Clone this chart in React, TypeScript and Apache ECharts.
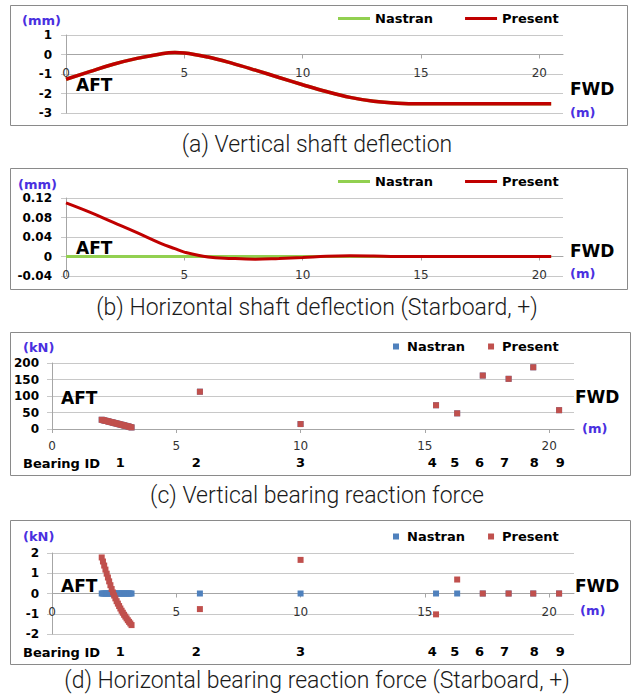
import React, { useEffect, useRef } from 'react';
import * as echarts from 'echarts';

// ---------- data ----------
const shaftX = [0, 1, 2, 3, 4, 4.6, 5, 6, 7, 8, 9, 10, 11, 12, 13, 14, 15, 16, 17, 18, 19, 20, 20.5];
const vertDeflPresent = [-1.27, -0.88, -0.5, -0.2, 0.03, 0.1, 0.08, -0.13, -0.44, -0.8, -1.18, -1.55, -1.9, -2.2, -2.4, -2.5, -2.53, -2.53, -2.53, -2.53, -2.53, -2.53, -2.53];
const vertDeflNastran = [-1.27, -0.88, -0.5, -0.2, 0.03, 0.1, 0.08, -0.13, -0.44, -0.8, -1.18, -1.55, -1.9, -2.2, -2.4, -2.5, -2.53, -2.53, -2.53, -2.53, -2.53, -2.53, -2.53];
const horzDeflPresent = [0.11, 0.091, 0.07, 0.049, 0.027, 0.016, 0.009, -0.001, -0.004, -0.0055, -0.004, -0.002, 0.0005, 0.0015, 0.001, 0, 0, 0, 0, 0, 0, 0, 0];
const horzDeflNastran = [0, 0, 0, 0, 0, 0, 0, 0, 0, 0, 0, 0, 0, 0, 0, 0, 0, 0, 0, 0, 0, 0, 0];

// bearing 1 (stern tube) support nodes
const bearing1X = [2.0, 2.05, 2.1, 2.15, 2.2, 2.25, 2.3, 2.35, 2.4, 2.45, 2.5, 2.55, 2.6, 2.65, 2.7, 2.75, 2.8, 2.85, 2.9, 2.95, 3.0, 3.05, 3.1, 3.15, 3.2];
const vertForceB1Present = [28, 27, 26, 25, 24.2, 23.2, 22.3, 21.3, 20.4, 19.4, 18.5, 17.5, 16.6, 15.6, 14.7, 13.7, 12.8, 11.8, 10.9, 9.9, 9.0, 8.0, 7.0, 5.9, 4.8];
const vertForceB1Nastran = [28, 27, 26, 25, 24.2, 23.2, 22.3, 21.3, 20.4, 19.4, 18.5, 17.5, 16.6, 15.6, 14.7, 13.7, 12.8, 11.8, 10.9, 9.9, 9.0, 8.0, 7.0, 5.9, 4.8];
const horzForceB1Present = [1.78, 1.58, 1.38, 1.18, 0.98, 0.79, 0.6, 0.41, 0.22, 0.05, -0.1, -0.24, -0.38, -0.5, -0.62, -0.74, -0.85, -0.95, -1.05, -1.14, -1.23, -1.32, -1.4, -1.48, -1.56];
const horzForceB1Nastran = [0, 0, 0, 0, 0, 0, 0, 0, 0, 0, 0, 0, 0, 0, 0, 0, 0, 0, 0, 0, 0, 0, 0, 0, 0];

// bearings 2 - 9
const bearingX = [5.95, 10.0, 15.45, 16.3, 17.33, 18.37, 19.36, 20.4];
const vertForcePresent = [113, 15, 72, 47.5, 162, 152, 187, 57];
const vertForceNastran = [113, 15, 72, 47.5, 162, 152, 187, 57];
const horzForcePresent = [-0.77, 1.66, -1.03, 0.69, 0, 0, 0, 0];
const horzForceNastran = [0, 0, 0, 0, 0, 0, 0, 0];

const distanceTicks = [0, 5, 10, 15, 20];
const bearingIds = ['1', '2', '3', '4', '5', '6', '7', '8', '9'];
const bearingIdX = [2.75, 5.8, 10.0, 15.3, 16.2, 17.2, 18.2, 19.4, 20.45];

const captions = [
  '(a) Vertical shaft deflection',
  '(b) Horizontal shaft deflection (Starboard, +)',
  '(c) Vertical bearing reaction force',
  '(d) Horizontal bearing reaction force (Starboard, +)',
];

// ---------- layout / styles ----------
const FONT = '"DejaVu Sans", sans-serif';
const AXIS = '#a6a6a6';
const GRID = '#c8c8c8';
const UNIT = '#4a30e0';
const GREEN = '#92d050';
const DARKRED = '#c00000';
const BLUE = '#4f81bd';
const RED = '#c0504d';

const grids = [
  { left: 66, top: 35, width: 497, height: 78 },
  { left: 66, top: 198, width: 497, height: 78 },
  { left: 52, top: 363, width: 522, height: 66 },
  { left: 52, top: 553, width: 522, height: 81 },
];
const yRanges = [
  { min: -3, max: 1, interval: 1 },
  { min: -0.04, max: 0.12, interval: 0.04 },
  { min: 0, max: 200, interval: 50 },
  { min: -2, max: 2, interval: 1 },
];

const zip = (xs: number[], ys: number[]) => xs.map((x, i) => [x, ys[i]]);

// shift of the horizontal axis from the grid bottom up to the y = 0 line
const zeroOffset = (i: number) => {
  const r = yRanges[i];
  return -grids[i].height * (0 - r.min) / (r.max - r.min);
};

const mainX = (gridIndex: number, margin: number) => ({
  type: 'value',
  gridIndex,
  min: 0,
  max: 21,
  interval: 5,
  position: 'bottom',
  offset: zeroOffset(gridIndex),
  axisLine: { show: true, onZero: false, lineStyle: { color: AXIS, width: 1 } },
  axisTick: { show: true, length: 4, customValues: distanceTicks, lineStyle: { color: AXIS } },
  axisLabel: {
    show: true,
    margin,
    customValues: distanceTicks,
    color: '#333',
    fontFamily: FONT,
    fontSize: 12,
    formatter: (v: number) => (v % 5 === 0 ? String(v) : ''),
  },
  splitLine: { show: false },
});

const idX = (gridIndex: number, margin: number) => ({
  type: 'value',
  gridIndex,
  min: 0,
  max: 21,
  position: 'bottom',
  axisLine: { show: false, onZero: false },
  axisTick: { show: false },
  splitLine: { show: false },
  axisLabel: {
    show: true,
    margin,
    customValues: bearingIdX,
    formatter: (v: number) => {
      const i = bearingIdX.indexOf(v);
      return i >= 0 ? bearingIds[i] : '';
    },
    fontWeight: 'bold',
    fontSize: 13,
    color: '#000',
    fontFamily: FONT,
  },
});

const yAx = (gridIndex: number, margin: number) => ({
  type: 'value',
  gridIndex,
  min: yRanges[gridIndex].min,
  max: yRanges[gridIndex].max,
  interval: yRanges[gridIndex].interval,
  axisLine: { show: true, onZero: false, lineStyle: { color: AXIS } },
  axisTick: { show: true, length: 5, lineStyle: { color: GRID } },
  axisLabel: { margin, color: '#000', fontWeight: 'bold', fontFamily: FONT, fontSize: 12 },
  splitLine: { show: true, lineStyle: { color: GRID, width: 1 } },
});

const txt = (text: string, x: number, y: number, size: number, color = '#000', align = 'left') => ({
  type: 'text',
  z: 50,
  style: {
    text,
    x,
    y,
    fill: color,
    font: `bold ${size}px ${FONT}`,
    align,
    verticalAlign: 'middle',
    textAlign: align,
    textVerticalAlign: 'middle',
  },
});

const frame = (x: number, y: number, w: number, h: number) => ({
  type: 'rect',
  z: 0,
  shape: { x, y, width: w, height: h },
  style: { fill: 'none', stroke: '#8a8a8a', lineWidth: 1 },
});

const caption = (text: string, y: number) => ({
  type: 'text',
  z: 50,
  style: {
    text,
    x: 317,
    y,
    fill: '#1a1a1a',
    font: `300 23px Roboto, "Noto Sans", sans-serif`,
    align: 'center',
    verticalAlign: 'middle',
    textAlign: 'center',
    textVerticalAlign: 'middle',
  },
});

const lineLegend = (top: number) => ({
  left: 338,
  top,
  padding: 0,
  orient: 'horizontal',
  icon: 'rect',
  itemWidth: 32,
  itemHeight: 3,
  itemGap: 32,
  selectedMode: false,
  textStyle: { fontFamily: FONT, fontWeight: 'bold', fontSize: 13, color: '#000' },
  data: [
    { name: 'Nastran', icon: 'rect', itemStyle: { color: GREEN } },
    { name: 'Present', icon: 'rect', itemStyle: { color: DARKRED } },
  ],
});

const SQUARE = 'path://M0,0L1,0L1,1L0,1Z';
const dotLegend = (top: number) => ({
  left: 393,
  top,
  padding: 0,
  orient: 'horizontal',
  itemWidth: 12,
  itemHeight: 6,
  itemGap: 23,
  selectedMode: false,
  textStyle: { fontFamily: FONT, fontWeight: 'bold', fontSize: 13, color: '#000' },
  data: [
    { name: 'Nastran', icon: SQUARE, itemStyle: { color: BLUE } },
    { name: 'Present', icon: SQUARE, itemStyle: { color: RED } },
  ],
});

const lineSeries = (name: string, idx: number, data: number[][], color: string, width: number) => ({
  type: 'line',
  name,
  xAxisIndex: idx,
  yAxisIndex: idx,
  data,
  smooth: 0.4,
  symbol: 'none',
  lineStyle: { color, width },
  itemStyle: { color },
});

const scatterSeries = (name: string, idx: number, data: number[][], color: string) => ({
  type: 'scatter',
  name,
  xAxisIndex: idx,
  yAxisIndex: idx,
  data,
  symbol: 'rect',
  symbolSize: 6,
  itemStyle: { color, opacity: 1 },
});

export default function App() {
  const ref = useRef<HTMLDivElement>(null);
  useEffect(() => {
    if (!ref.current) return;
    const chart = echarts.init(ref.current, undefined, { renderer: 'svg' });
    const option: any = {
      animation: false,
      backgroundColor: '#ffffff',
      grid: grids.map((g) => ({ ...g, outerBoundsMode: 'none', containLabel: false })),
      xAxis: [mainX(0, 12), mainX(1, 12), mainX(2, 11), mainX(3, 12), idX(2, 27), idX(3, 11)],
      yAxis: [yAx(0, 14), yAx(1, 14), yAx(2, 13), yAx(3, 13)],
      legend: [lineLegend(12), lineLegend(175), dotLegend(340), dotLegend(530)],
      series: [
        lineSeries('Nastran', 0, zip(shaftX, vertDeflNastran), GREEN, 3.5),
        lineSeries('Present', 0, zip(shaftX, vertDeflPresent), DARKRED, 3.5),
        lineSeries('Nastran', 1, zip(shaftX, horzDeflNastran), GREEN, 3),
        lineSeries('Present', 1, zip(shaftX, horzDeflPresent), DARKRED, 3),
        scatterSeries('Nastran', 2, [...zip(bearing1X, vertForceB1Nastran), ...zip(bearingX, vertForceNastran)], BLUE),
        scatterSeries('Present', 2, [...zip(bearing1X, vertForceB1Present), ...zip(bearingX, vertForcePresent)], RED),
        scatterSeries('Nastran', 3, [...zip(bearing1X, horzForceB1Nastran), ...zip(bearingX, horzForceNastran)], BLUE),
        scatterSeries('Present', 3, [...zip(bearing1X, horzForceB1Present), ...zip(bearingX, horzForcePresent)], RED),
      ],
      graphic: [
        frame(10.5, 5.5, 617, 120),
        frame(10.5, 168.5, 617, 121),
        frame(10.5, 332.5, 620, 143),
        frame(10.5, 520.5, 620, 144),
        // panel a
        txt('(mm)', 22, 20, 13, UNIT),
        txt('AFT', 76, 85, 17),
        txt('FWD', 570, 89, 17),
        txt('(m)', 570, 112.5, 13, UNIT),
        // panel b
        txt('(mm)', 18, 184, 13, UNIT),
        txt('AFT', 76, 248, 17),
        txt('FWD', 570, 251, 17),
        txt('(m)', 570, 273, 13, UNIT),
        // panel c
        txt('(kN)', 23, 347, 13, UNIT),
        txt('AFT', 61, 398, 17),
        txt('FWD', 575, 397, 17),
        txt('(m)', 582, 428, 13, UNIT),
        txt('Bearing ID', 23, 463, 13),
        // panel d
        txt('(kN)', 23, 536.5, 13, UNIT),
        txt('AFT', 61, 586, 17),
        txt('FWD', 575, 586, 17),
        txt('(m)', 580, 610.5, 13, UNIT),
        txt('Bearing ID', 23, 652, 13),
        caption(captions[0], 144),
        caption(captions[1], 307),
        caption(captions[2], 495),
        caption(captions[3], 680),
      ],
    };
    chart.setOption(option);
    return () => chart.dispose();
  }, []);
  return (
    <div
      ref={ref}
      style={{ position: 'absolute', left: 0, top: 0, width: 635, height: 695, background: '#fff' }}
    />
  );
}
